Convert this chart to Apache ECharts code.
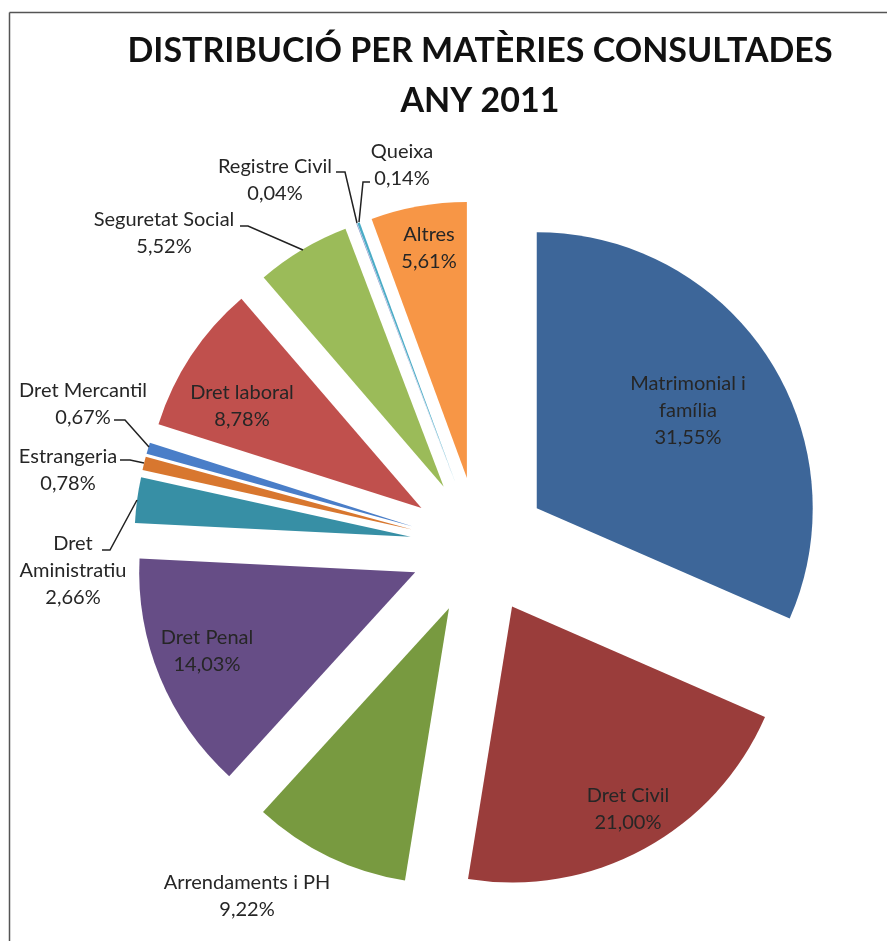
<!DOCTYPE html>
<html>
<head>
<meta charset="utf-8">
<title>Distribució per matèries consultades 2011</title>
<script src="https://cdn.jsdelivr.net/npm/echarts@6/dist/echarts.min.js"></script>
<style>
    html, body { margin: 0; padding: 0; background: #fff; }
    #chart { width: 887px; height: 941px; }
</style>
</head>
<body>
<div id="chart"></div>
<script>
// dades del gràfic (percentatges)
var categories = ['Matrimonial i família', 'Dret Civil', 'Arrendaments i PH', 'Dret Penal', 'Dret Aministratiu',
                  'Estrangeria', 'Dret Mercantil', 'Dret laboral', 'Seguretat Social', 'Registre Civil', 'Queixa', 'Altres']
var values = [31.55, 21.00, 9.22, 14.03, 2.66, 0.78, 0.67, 8.78, 5.52, 0.04, 0.14, 5.61]
// com es parteix el nom en línies a l'etiqueta
var labelNames = ['Matrimonial i\nfamília', 'Dret Civil', 'Arrendaments i PH', 'Dret Penal', 'Dret\nAministratiu',
                  'Estrangeria', 'Dret Mercantil', 'Dret laboral', 'Seguretat Social', 'Registre Civil', 'Queixa', 'Altres']

var colors = ['#3D6699', '#9A3D3B', '#789A40', '#664D86', '#378FA5', '#D8772F',
              '#4A7EC8', '#C0504D', '#9BBB59', '#7D8FC8', '#4BACC6', '#F79646']

// on va cada etiqueta (centre del bloc) i la seva línia guia
var labelPos = [
    [688, 411], [628, 809], [247, 896], [207, 651], [73, 571], [68, 470],
    [83, 404], [242, 406], [164, 233], [275, 180], [402, 165], [429, 248]
]
var guideLines = [
    [[137, 500], [110, 550], [102, 550]],
    [[144, 463], [130, 460], [120, 460]],
    [[149, 447], [125, 420], [114, 420]],
    [[303, 250], [248, 226], [240, 226]],
    [[357, 223], [345, 172], [336, 172]],
    [[359, 222], [363, 182], [370, 182]]
]

var myChart = echarts.init(document.getElementById('chart'))

function fmtPct(v) {
    return v.toFixed(2).replace('.', ',') + '%'
}

var seriesData = categories.map(function (name, i) {
    return {
        name: name,
        value: values[i],
        selected: true,
        itemStyle: { color: colors[i] }
    }
})

// vores del marc
var graphics = [
    { type: 'line', shape: { x1: 9.5, y1: 12.5, x2: 887, y2: 12.5 }, style: { stroke: '#555', lineWidth: 1.5 } },
    { type: 'line', shape: { x1: 9.5, y1: 12.5, x2: 9.5, y2: 941 }, style: { stroke: '#555', lineWidth: 1.5 } }
]
// etiquetes
categories.forEach(function (name, i) {
    graphics.push({
        type: 'text',
        x: labelPos[i][0],
        y: labelPos[i][1],
        z: 100,
        style: {
            text: labelNames[i] + '\n' + fmtPct(values[i]),
            fontFamily: 'Lato',
            fontSize: 20,
            lineHeight: 27,
            fill: '#262626',
            align: 'center',
            verticalAlign: 'middle',
            textAlign: 'center',
            textVerticalAlign: 'middle'
        }
    })
})
// línies guia
guideLines.forEach(function (pts) {
    graphics.push({
        type: 'polyline',
        z: 100,
        shape: { points: pts },
        style: { stroke: '#222', lineWidth: 1.5, fill: null }
    })
})

var option = {
    animation: false,
    title: {
        text: 'DISTRIBUCIÓ PER MATÈRIES CONSULTADES\nANY 2011',
        left: 475,
        top: 21,
        textAlign: 'center',
        textStyle: {
            fontFamily: 'Lato',
            fontWeight: 'bold',
            fontSize: 34,
            lineHeight: 50,
            color: '#111'
        }
    },
    graphic: graphics,
    series: [
        {
            name: 'Matèries',
            type: 'pie',
            center: [479, 546],
            radius: 276,
            startAngle: 90,
            clockwise: true,
            selectedMode: 'multiple',
            selectedOffset: 69,
            avoidLabelOverlap: false,
            data: seriesData,
            label: { show: false },
            labelLine: { show: false },
            emphasis: { scale: false }
        }
    ]
}

myChart.setOption(option)
</script>
</body>
</html>
